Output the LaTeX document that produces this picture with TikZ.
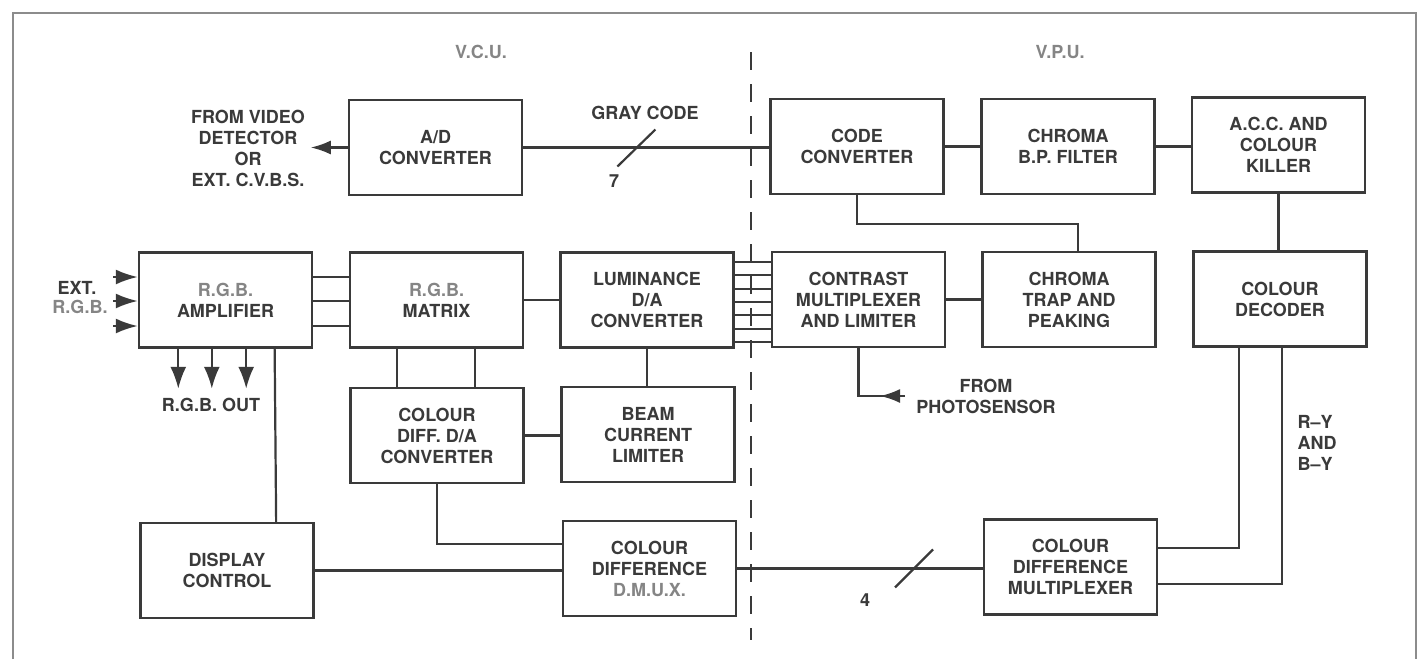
\documentclass[tikz,border=0pt]{standalone}
\usepackage{fontspec}
\setmainfont{TeX Gyre Heros}
\usetikzlibrary{arrows.meta,calc}
\definecolor{ink}{HTML}{3A3A3A}
\definecolor{lite}{HTML}{858585}
\definecolor{frm}{HTML}{8C8C8C}
\begin{document}
\begin{tikzpicture}[x=0.5pt,y=-0.5pt,
  box/.style={draw=ink, line width=1.25pt, minimum width=86.5pt, minimum height=47.5pt,
    inner sep=0pt, align=center, font=\bfseries\fontsize{9}{10.5}\selectfont, text=ink},
  wire/.style={draw=ink, line width=1.1pt},
  arr/.style={wire, -{Latex[length=10pt,width=7pt]}},
  bigarr/.style={wire, -{Latex[length=11pt,width=8pt]}},
  lbl/.style={font=\bfseries\fontsize{9}{10.5}\selectfont, text=ink, align=center, inner sep=0pt},
  litelbl/.style={lbl, text=lite}]
\useasboundingbox (0,0) rectangle (1428,659);
% frame
\draw[frm, line width=1pt] (13,659) -- (13,13) -- (1416,13) -- (1416,659);
% divider
\coordinate (dvt) at (751,52);
\coordinate (dvb) at (751,640);
\draw[ink, line width=1.2pt, dash pattern=on 9pt off 7pt] (dvt) -- (dvb);
% section labels
\node[litelbl] (vcu) at (481,52) {V.C.U.};
\node[litelbl] (vpu) at (1060,52) {V.P.U.};
% boxes
\node[box] (ad)   at (435.5,147.5) {A/D\\CONVERTER};
\node[box] (cc)   at (857,146.5)   {CODE\\CONVERTER};
\node[box] (bp)   at (1068,146.5)  {CHROMA\\B.P. FILTER};
\node[box] (acc)  at (1278.5,145)  {A.C.C. AND\\COLOUR\\KILLER};
\node[box] (amp)  at (225.5,300)   {{\color{lite}R.G.B.}\\AMPLIFIER};
\node[box] (mat)  at (436.5,300)   {{\color{lite}R.G.B.}\\MATRIX};
\node[box] (lum)  at (647,300)     {LUMINANCE\\D/A\\CONVERTER};
\node[box] (con)  at (858.5,299.5) {CONTRAST\\MULTIPLEXER\\AND LIMITER};
\node[box] (trap) at (1069,299.5)  {CHROMA\\TRAP AND\\PEAKING};
\node[box] (dec)  at (1280,299)    {COLOUR\\DECODER};
\node[box] (cdd)  at (437,435.5)   {COLOUR\\DIFF. D/A\\CONVERTER};
\node[box] (beam) at (648,434.5)   {BEAM\\CURRENT\\LIMITER};
\node[box] (disp) at (227,570.5)   {DISPLAY\\CONTROL};
\node[box] (dmux) at (649.5,568.5) {COLOUR\\DIFFERENCE\\{\color{lite}D.M.U.X.}};
\node[box] (mux)  at (1070.5,567)  {COLOUR\\DIFFERENCE\\MULTIPLEXER};
% top row
\draw[wire] (ad.east) -- (ad.east -| cc.west) coordinate[pos=0.46] (s7);
\draw[wire] ($(s7)+(-19,19)$) -- ($(s7)+(19,-18)$);
\node[lbl] (gray) at (645,113) {GRAY CODE};
\node[lbl] (seven) at (614,181) {7};
\draw[wire] (cc.east) -- (cc.east -| bp.west);
\draw[wire] (bp.east) -- (bp.east -| acc.west);
\draw[wire] (acc.south) -- (acc.south |- dec.north);
\coordinate (trapin) at ($(trap.north west)!0.55!(trap.north east)$);
\draw[wire] (cc.south) |- ($(trapin)+(0,-27)$) -- (trapin);
% video input
\node[lbl] (vin) at (248,148) {FROM VIDEO\\DETECTOR\\OR\\EXT. C.V.B.S.};
\draw[arr] (ad.west) -- ++(-37,0);
% ext rgb inputs
\node[lbl] (ext) at (77,288) {EXT.};
\node[litelbl] (extrgb) at (80,307) {R.G.B.};
\coordinate (e1) at (113,277);
\coordinate (e2) at (113,301);
\coordinate (e3) at (113,326);
\foreach \e in {e1,e2,e3}{
  \draw[{Latex[length=11pt,width=7.5pt]}-, wire] (\e -| amp.west) -- (\e);
  \draw[wire] (\e -| amp.east) -- (\e -| mat.west);
}
% rgb out
\foreach \f in {0.231,0.422,0.618}{
  \draw[bigarr] ($(amp.south west)!\f!(amp.south east)$) -- ++(0,40);
}
\node[lbl] (rgbout) at (211,405) {R.G.B. OUT};
\draw[wire] ($(amp.south west)!0.78!(amp.south east)$) -- ($(disp.north west)!0.78!(disp.north east)$);
% middle row
\draw[wire] (mat.east) -- (mat.east -| lum.west);
\foreach \f in {0.277,0.72}{
  \draw[wire] ($(mat.south west)!\f!(mat.south east)$) coordinate (mm) -- (mm |- cdd.north);
}
\draw[wire] (lum.south) -- (lum.south |- beam.north);
\draw[wire] (cdd.east) -- (cdd.east -| beam.west);
\foreach \yy [count=\i] in {262,275.3,288.7,302,315.3,328.7,342}{
  \coordinate (bus\i) at (700,\yy);
  \draw[wire] (bus\i -| lum.east) -- (bus\i -| con.west);
}
\draw[wire] (con.east) -- (con.east -| trap.west);
% photosensor
\coordinate (ph) at (905,396);
\draw[wire] (con.south) |- (ph);
\draw[wire, -{Latex[length=10pt,width=7pt]}] (ph) -- ++(-25,0);
\node[lbl] (phl) at (986,396) {FROM\\PHOTOSENSOR};
% bottom
\draw[wire] (cdd.south) |- ($(dmux.west)+(0,-24.5)$);
\draw[wire] (disp.east) -- (disp.east -| dmux.west);
\draw[wire] (dmux.east) -- (dmux.east -| mux.west) coordinate[pos=0.72] (s4);
\draw[wire] ($(s4)+(-19,19)$) -- ($(s4)+(19,-19)$);
\node[lbl] (four) at (865,600) {4};
\draw[wire] ($(mux.east)+(0,-19)$) -| ($(dec.south west)!0.264!(dec.south east)$);
\draw[wire] ($(mux.east)+(0,17)$) -| ($(dec.south west)!0.51!(dec.south east)$);
\node[lbl, align=left] (ry) at (1317,443) {R–Y\\AND\\B–Y};
\end{tikzpicture}
\end{document}
